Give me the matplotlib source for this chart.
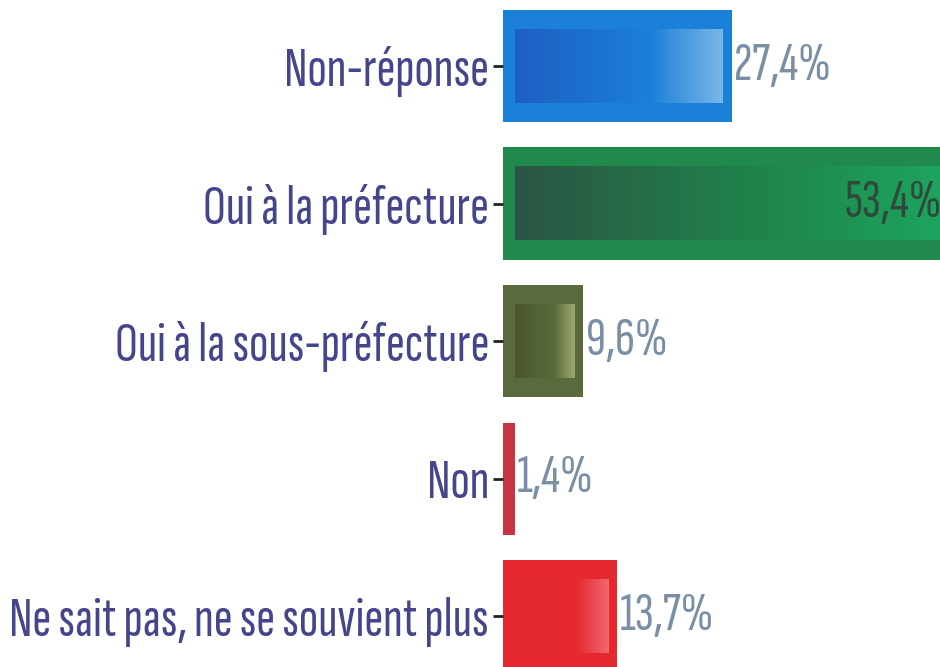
import numpy as np
import matplotlib.pyplot as plt
from matplotlib import colors as mcolors

categories = ["Non-réponse", "Oui à la préfecture", "Oui à la sous-préfecture",
              "Non", "Ne sait pas, ne se souvient plus"]
values = [27.4, 53.4, 9.6, 1.4, 13.7]
labels = ["27,4%", "53,4%", "9,6%", "1,4%", "13,7%"]

edge_colors = ["#1b80d8", "#1f8a4c", "#5b6a3c", "#c8343f", "#e5282e"]
grad_start = ["#1f5cc0", "#2c4f44", "#48552f", "#c8343f", "#e02c31"]
grad_end = ["#86bdea", "#1da862", "#a3b277", "#c8343f", "#f2707a"]

plt.rcParams["font.family"] = ["Sofia Sans Extra Condensed", "Pathway Gothic One", "DejaVu Sans"]

fig = plt.figure(figsize=(9.4, 6.67), dpi=100)
ax = fig.add_axes([503 / 940, 0, 1 - 503 / 940, 1])

bar_h = 0.815
y = np.arange(len(categories))
ax.barh(y, values, height=bar_h, color=edge_colors, zorder=1)

xmax = (940 - 503) / 8.35
ax.set_xlim(0, xmax)
ax.set_ylim(4.37, -0.48)

# lighter gradient panel inside each bar
for i, v in enumerate(values):
    if v < 3:
        continue
    cmap = mcolors.LinearSegmentedColormap.from_list(
        "g", [(0, grad_start[i]), (0.65, edge_colors[i]), (1, grad_end[i])])
    grad = np.linspace(0, 1, 256).reshape(1, -1)
    ax.imshow(grad, cmap=cmap, aspect="auto",
              extent=(1.4, v - 1.1, i + bar_h / 2 - 0.14, i - bar_h / 2 + 0.14),
              zorder=2, interpolation="bilinear", alpha=0.9)

for i, v in enumerate(values):
    if v > xmax - 5:
        ax.text(xmax + 0.2, i, labels[i], ha="right", va="center", fontsize=40,
                color="#2f4a3c", zorder=3)
    else:
        ax.text(v + 0.3, i, labels[i], ha="left", va="center", fontsize=40,
                color="#7a8fa6", zorder=3)

ax.set_yticks(y)
ax.set_yticklabels(categories, fontsize=41, color="#45458c")
ax.tick_params(axis="y", length=7, width=2, color="#222222", pad=3)
ax.set_xticks([])
for s in ax.spines.values():
    s.set_visible(False)

fig.savefig("out.png", dpi=100)
